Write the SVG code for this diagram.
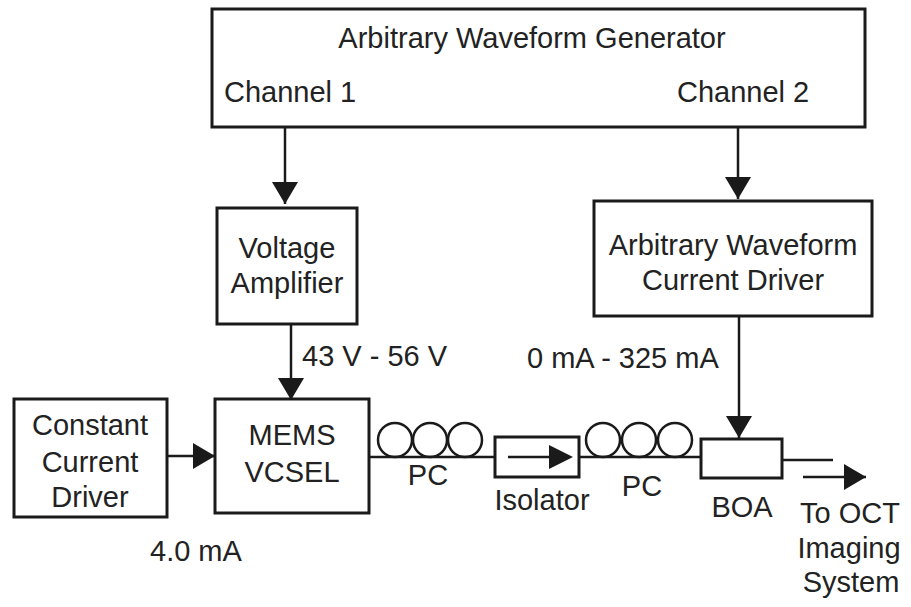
<svg xmlns="http://www.w3.org/2000/svg" width="911" height="607" viewBox="0 0 911 607">
<defs>
<style>
.box{fill:#fff;stroke:#1a1a1a;stroke-width:3}
.ln{fill:none;stroke:#1a1a1a;stroke-width:2.5}
.coil{fill:none;stroke:#1a1a1a;stroke-width:2.5}
text{font-family:"Liberation Sans",Arial,sans-serif;font-size:29px;fill:#222}
.c{text-anchor:middle}
</style>
<marker id="ah" viewBox="0 0 22 26" refX="22" refY="13" markerWidth="22" markerHeight="26" markerUnits="userSpaceOnUse" orient="auto">
<path d="M0,0 L22,13 L0,26 Z" fill="#1a1a1a"/>
</marker>
</defs>
<rect width="911" height="607" fill="#fff"/>
<g id="awg">
<rect class="box" x="212" y="9" width="653" height="118"/>
<text class="c" x="532" y="48" font-size="30">Arbitrary Waveform Generator</text>
<text x="224" y="102">Channel 1</text>
<text x="677" y="102">Channel 2</text>
</g>
<g id="voltage-amplifier">
<rect class="box" x="217" y="208" width="140" height="116"/>
<text class="c" x="287" y="258">Voltage</text>
<text class="c" x="287" y="293">Amplifier</text>
</g>
<g id="awcd">
<rect class="box" x="594" y="201" width="278" height="115"/>
<text class="c" x="733" y="255">Arbitrary Waveform</text>
<text class="c" x="733" y="290">Current Driver</text>
</g>
<g id="ccd">
<rect class="box" x="14" y="399" width="153" height="118"/>
<text class="c" x="90" y="435">Constant</text>
<text class="c" x="90" y="472">Current</text>
<text class="c" x="90" y="507">Driver</text>
</g>
<g id="vcsel">
<rect class="box" x="215" y="399" width="154" height="114"/>
<text class="c" x="292" y="445">MEMS</text>
<text class="c" x="292" y="482">VCSEL</text>
</g>
<g id="pc1">
<circle class="coil" cx="395" cy="440" r="17"/>
<circle class="coil" cx="430" cy="440" r="17"/>
<circle class="coil" cx="465" cy="440" r="17"/>
<text class="c" x="428" y="485">PC</text>
</g>
<g id="isolator">
<rect class="box" x="495" y="437" width="84" height="40"/>
<line class="ln" x1="508" y1="457" x2="555" y2="457"/>
<path d="M549,445 L573,457 L549,469 Z" fill="#1a1a1a"/>
<text class="c" x="542" y="510">Isolator</text>
</g>
<g id="pc2">
<circle class="coil" cx="603" cy="440" r="17"/>
<circle class="coil" cx="639" cy="440" r="17"/>
<circle class="coil" cx="675" cy="440" r="17"/>
<text class="c" x="642" y="496">PC</text>
</g>
<g id="boa">
<rect class="box" x="701" y="439" width="81" height="39"/>
<text class="c" x="742" y="517">BOA</text>
</g>
<g id="output-label">
<text class="c" x="850" y="523">To OCT</text>
<text class="c" x="849" y="558">Imaging</text>
<text class="c" x="851" y="592">System</text>
</g>
<g id="connectors">
<line class="ln" x1="285" y1="127" x2="285" y2="204" marker-end="url(#ah)"/>
<line class="ln" x1="738" y1="127" x2="738" y2="199" marker-end="url(#ah)"/>
<line class="ln" x1="291" y1="324" x2="291" y2="400" marker-end="url(#ah)"/>
<line class="ln" x1="739" y1="316" x2="739" y2="438" marker-end="url(#ah)"/>
<line class="ln" x1="167" y1="456" x2="215" y2="456" marker-end="url(#ah)"/>
<line class="ln" x1="369" y1="457" x2="495" y2="457"/>
<line class="ln" x1="579" y1="457" x2="701" y2="457"/>
<line class="ln" x1="782" y1="460" x2="833" y2="460"/>
<line class="ln" x1="803" y1="477" x2="866" y2="477" marker-end="url(#ah)"/>
<text x="302" y="366">43 V - 56 V</text>
<text x="527" y="368">0 mA - 325 mA</text>
<text x="150" y="561">4.0 mA</text>
</g>
</svg>
